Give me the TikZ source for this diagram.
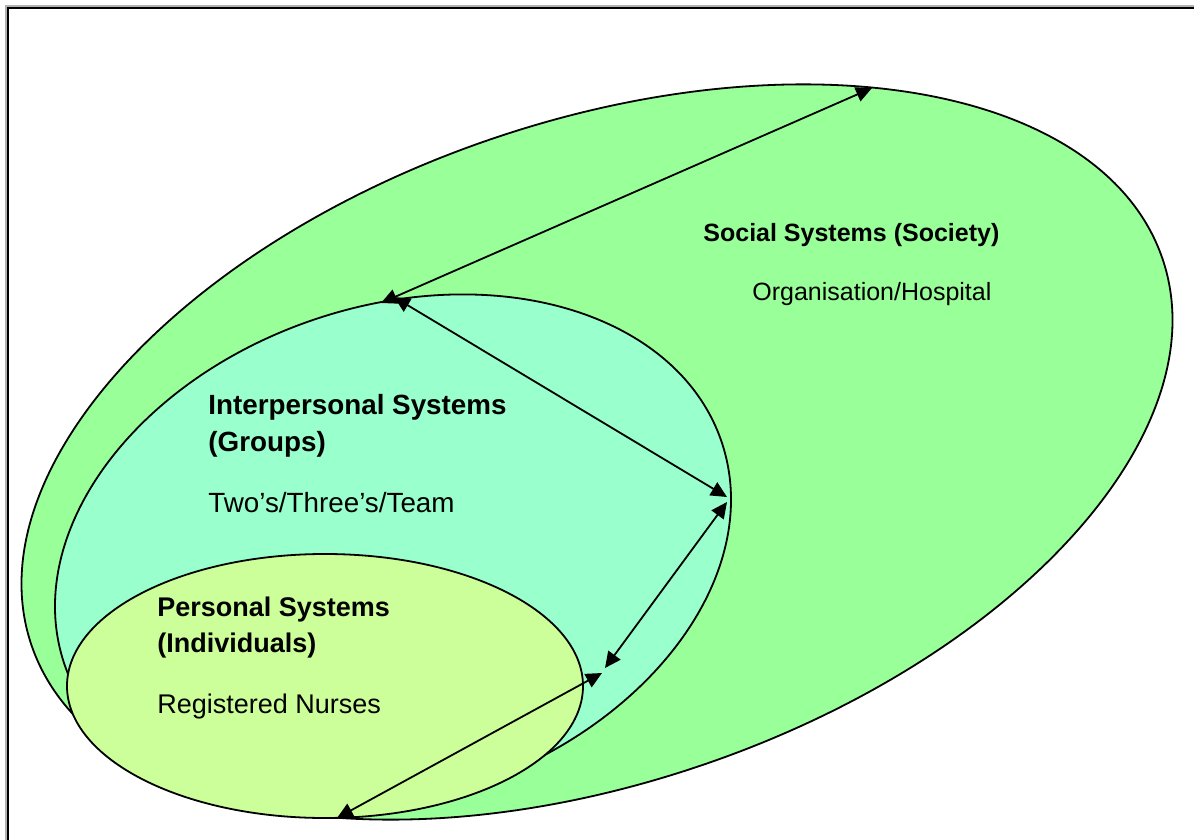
\documentclass[tikz,border=0pt]{standalone}
\usepackage{fontspec}
\setmainfont{Liberation Sans}
\usetikzlibrary{arrows.meta}

\definecolor{social}{HTML}{99FF99}
\definecolor{inter}{HTML}{99FFCC}
\definecolor{personal}{HTML}{CCFF99}

\tikzset{
 ring/.style={draw=black,line width=0.9pt},
 link/.style={line width=0.9pt,{Triangle[length=8pt,width=7.5pt]}-{Triangle[length=8pt,width=7.5pt]}},
 label/.style={anchor=base west,inner sep=0pt,font=\fontsize{#1}{16}\selectfont},
 title/.style={anchor=base west,inner sep=0pt,font=\fontsize{#1}{16}\selectfont\bfseries}
}

\begin{document}
\begin{tikzpicture}[x=0.5pt,y=-0.5pt]
\useasboundingbox (0,0) rectangle (1194,840);
\clip (0,0) rectangle (1194,840);

% frame
\draw[gray!60,line width=1.2pt] (6.5,6.5) rectangle (1210,860);
\draw[line width=0.9pt] (8,8) rectangle (1210,860);

% the three systems
\fill[social,ring,rotate around={18.9:(597,452)}] (597,452) ellipse (597.6 and 330.3);
\fill[inter,ring,rotate around={18.7:(393,553)}] (393,553) ellipse (346.9 and 246.4);
\fill[personal,ring] (325,686) ellipse (258 and 132);

% arrow ends
\coordinate (socTop) at (872,88);
\coordinate (socIn) at (381,303);
\coordinate (intTop) at (394,297);
\coordinate (intRight) at (727,497);
\coordinate (intRightB) at (727,502);
\coordinate (intLow) at (605,668);
\coordinate (perRight) at (602,673);
\coordinate (perBot) at (337,818);

\draw[link] (socIn) -- (socTop);
\draw[link] (intTop) -- (intRight);
\draw[link] (intRightB) -- (intLow);
\draw[link] (perRight) -- (perBot);

% texts
\node[title=12.5] (soctitle) at (703,242) {Social Systems (Society)};
\node[label=12.5] (socsub) at (752,300) {Organisation/Hospital};

\node[title=13.9] (intertitle) at (208,414) {Interpersonal Systems};
\node[title=13.9] (intergroup) at (208,451) {(Groups)};
\node[label=13.9] (intersub) at (208,512) {Two’s/Three’s/Team};

\node[title=13.5] (perstitle) at (157,616) {Personal Systems};
\node[title=13.5] (persgroup) at (157,652) {(Individuals)};
\node[label=13.5] (perssub) at (157,713) {Registered Nurses};

\end{tikzpicture}
\end{document}
